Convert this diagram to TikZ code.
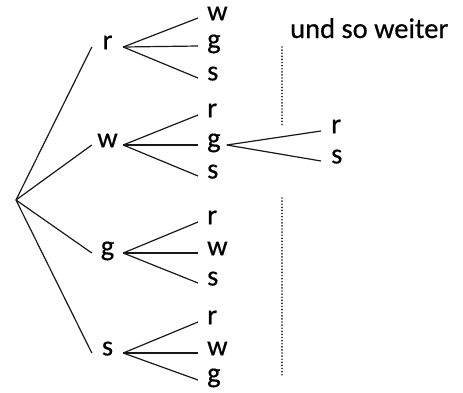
\documentclass[tikz,border=0pt]{standalone}
\usepackage{fontspec}
\setmainfont{Carlito}[FakeBold=0.5]
\begin{document}
\begin{tikzpicture}[x=1pt,y=-1pt,
  lbl/.style={inner sep=0pt,text height=1ex,text depth=0pt,font=\fontsize{28.5}{30}\selectfont},
  lvlone/.style={lbl,minimum width=31pt},
  lvltwo/.style={lbl,anchor=west},
  branch/.style={line width=1.2pt,draw=black!90},
  dots/.style={line width=1.9pt,line cap=round,dash pattern=on 0pt off 3.1pt,draw=black!85}]
\useasboundingbox (0,0) rectangle (463,392);
\coordinate (root) at (16,200);
% level 1
\node[lvlone] (r1) at (107.5,47) {r};
\node[lvlone] (w1) at (107.5,145) {w};
\node[lvlone] (g1) at (107.5,253) {g};
\node[lvlone] (s1) at (107.5,353) {s};
\foreach \n in {r1,w1,g1,s1} \draw[branch] (root) -- (\n.west);
% level 2
\node[lvltwo] (r1w) at (207,18) {w};
\node[lvltwo] (r1g) at (207,46) {g};
\node[lvltwo] (r1s) at (207,78) {s};
\node[lvltwo] (w1r) at (207,115) {r};
\node[lvltwo] (w1g) at (207,145) {g};
\node[lvltwo] (w1s) at (207,176) {s};
\node[lvltwo] (g1r) at (207,222) {r};
\node[lvltwo] (g1w) at (207,253) {w};
\node[lvltwo] (g1s) at (207,283) {s};
\node[lvltwo] (s1r) at (207,322) {r};
\node[lvltwo] (s1w) at (207,353) {w};
\node[lvltwo] (s1g) at (207,380) {g};
\foreach \p/\c in {r1/r1w,r1/r1g,r1/r1s,w1/w1r,w1/w1g,w1/w1s,g1/g1r,g1/g1w,g1/g1s,s1/s1r,s1/s1w,s1/s1g}
  \draw[branch] (\p.east) -- ([xshift=-9pt]\c.west);
% level 3
\node[lvltwo] (w1gr) at (331,131) {r};
\node[lvltwo] (w1gs) at (331,161) {s};
\foreach \c in {w1gr,w1gs}
  \draw[branch] ([xshift=6pt]w1g.east) -- ([xshift=-10pt]\c.west);
% dotted lines
\coordinate (d1a) at (282,47);
\coordinate (d1b) at (282,125);
\coordinate (d2a) at (282,198);
\coordinate (d2b) at (282,377);
\draw[dots] (d1a) -- (d1b);
\draw[dots] (d2a) -- (d2b);
\node[anchor=base west,inner sep=0pt,font=\fontsize{28.5}{30}\selectfont] (usw) at (290,38) {und so weiter};
\end{tikzpicture}
\end{document}
